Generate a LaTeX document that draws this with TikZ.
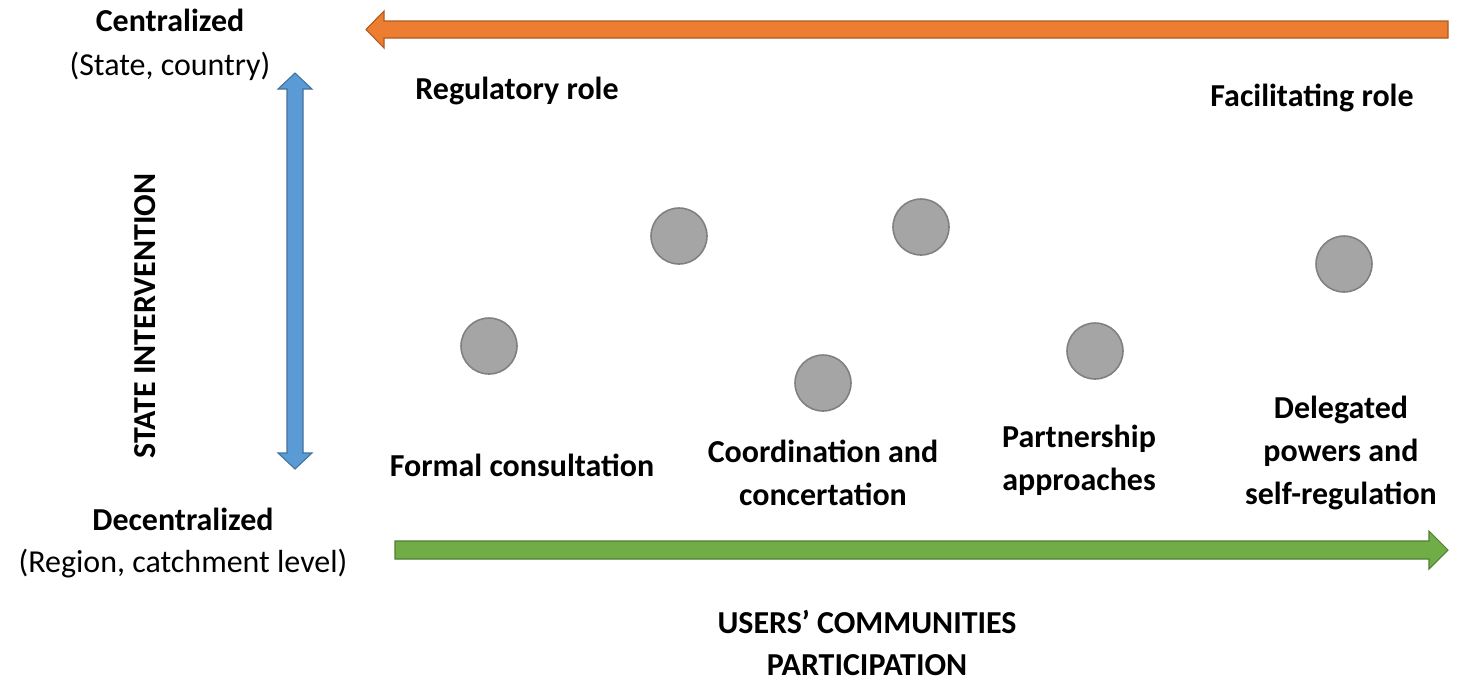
\documentclass[tikz,border=0pt]{standalone}
\usepackage{fontspec}
\setmainfont{Carlito}
\usepackage{tikz}
\definecolor{orangeA}{HTML}{ED7D31}
\definecolor{orangeB}{HTML}{AE5A21}
\definecolor{blueA}{HTML}{5B9BD5}
\definecolor{blueB}{HTML}{41719C}
\definecolor{greenA}{HTML}{70AD47}
\definecolor{greenB}{HTML}{507E32}
\tikzset{
    dot/.style={circle, fill={rgb,255:red,165;green,165;blue,165}, draw={rgb,255:red,128;green,128;blue,128}, line width=0.9pt, minimum size=1.12cm, inner sep=0pt},
    lbl/.style={font=\fontsize{18.2}{24.4}\selectfont\bfseries, align=center, inner sep=0pt},
    sub/.style={font=\fontsize{18.2}{24.4}\selectfont, align=center, inner sep=0pt},
}

\begin{document}
\begin{tikzpicture}[x=0.02cm, y=-0.02cm]
    \useasboundingbox (0,0) rectangle (1458,681);

    % axes arrows
    \filldraw[fill=orangeA, draw=orangeB, line width=0.6pt]
        (1448,21) -- (384,21) -- (384,11) -- (366,29.5) -- (384,48) -- (384,38) -- (1448,38) -- cycle;
    \filldraw[fill=greenA, draw=greenB, line width=0.6pt]
        (395,541) -- (1429,541) -- (1429,531) -- (1448,550) -- (1429,569) -- (1429,559) -- (395,559) -- cycle;
    \filldraw[fill=blueA, draw=blueB, line width=0.6pt]
        (287,89) -- (278,89) -- (295,73) -- (312,89) -- (303,89) -- (303,453) -- (312,453) -- (295,469) -- (278,453) -- (287,453) -- cycle;

    % circles
    \node (fc) [dot] at (489,346) {};
    \node (c2) [dot] at (679,236) {};
    \node (c3) [dot] at (921,227) {};
    \node (cc) [dot] at (823,383) {};
    \node (pa) [dot] at (1095,351) {};
    \node (dp) [dot] at (1344,264) {};

    % texts
    \node (cen) [lbl] at (170,20) {Centralized};
    \node (cens) [sub] at (170,66) {(State, country)};
    \node (dec) [lbl] at (183,519) {Decentralized};
    \node (decs) [sub] at (183,564) {(Region, catchment level)};
    \node (si) [lbl, rotate=90] at (145,316) {STATE INTERVENTION};
    \node (reg) [lbl] at (517,91) {Regulatory role};
    \node (fac) [lbl] at (1312,98) {Facilitating role};
    \node (tfc) [lbl] at (522,465) {Formal consultation};
    \node (tcc) [lbl] at (823,473) {Coordination and\\concertation};
    \node (tpa) [lbl] at (1079,460) {Partnership\\approaches};
    \node (tdp) [lbl] at (1341,453) {Delegated\\powers and\\self-regulation};
    \node (ucp) [lbl] at (867,643) {USERS’ COMMUNITIES\\PARTICIPATION};
\end{tikzpicture}
\end{document}
